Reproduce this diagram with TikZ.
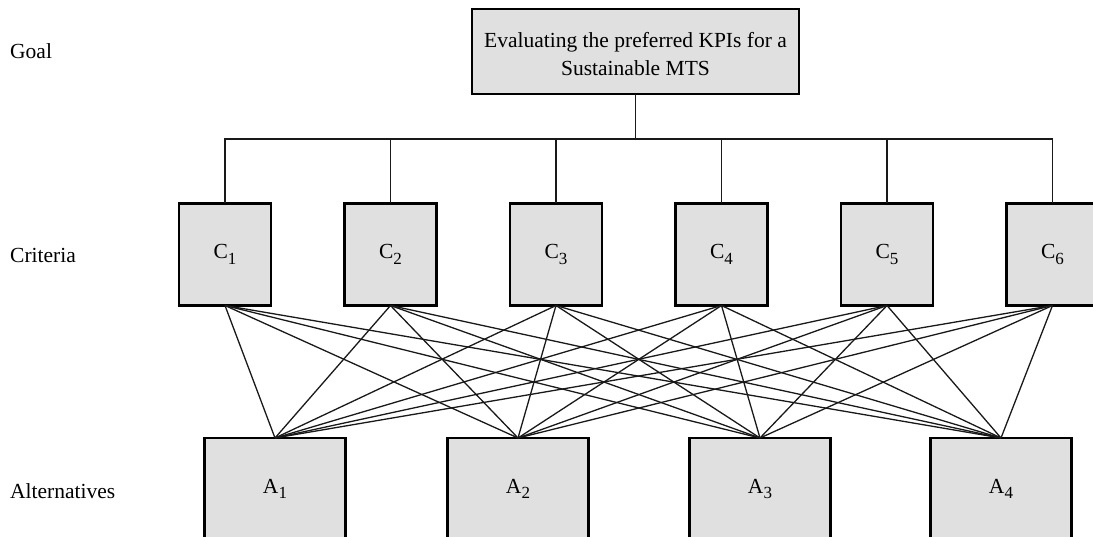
\documentclass[tikz,border=0pt]{standalone}
\usepackage{fontspec}
\setmainfont{Liberation Serif}
\newcommand{\sbx}[1]{\raisebox{-5.5pt}{\fontsize{17}{17}\selectfont #1}}
\begin{document}
\begin{tikzpicture}[x=1pt,y=-1pt,
  box/.style={draw=black,line width=2.6pt,fill=black!12,inner sep=0pt,outer sep=0pt},
  txt/.style={font=\fontsize{21.5}{28}\selectfont},
  lbl/.style={anchor=west,font=\fontsize{21.5}{26}\selectfont,inner sep=0pt},
  conn/.style={line width=1.3pt,black!90}]
\useasboundingbox (0,0) rectangle (1093,537);
\begin{scope}
\clip (0,0) rectangle (1093,537);
% goal
\node[box,minimum width=327pt,minimum height=85pt] (G) at (635.5,51.5) {};
\node[align=center,txt] (GT) at (635.5,54.5)
  {Evaluating the preferred KPIs for a\\Sustainable MTS};
% criteria
\foreach \i in {1,...,6}{
  \node[box,minimum width=92pt,minimum height=102pt,txt]
    (C\i) at ({225+(\i-1)*165.5},254.5) {C\sbx{\i}};
}
% alternatives
\foreach \j/\x in {1/275,2/518,3/760,4/1001}{
  \node[box,minimum width=141pt,minimum height=120pt] (A\j) at (\x,498) {};
  \node[txt] (AL\j) at (\x,489) {A\sbx{\j}};
}
\coordinate (bar) at (G.south |- 0,139);
\foreach \i in {1,...,6}{
  \draw[conn] (G.south) -- (bar) -| (C\i.north);
}
\foreach \i in {1,...,6}{
  \foreach \j in {1,...,4}{
    \draw[conn] (C\i.south) -- (A\j.north);
  }
}
\end{scope}
\node[lbl] (lg) at (10,51) {Goal};
\node[lbl] (lc) at (10,255) {Criteria};
\node[lbl] (la) at (10,491) {Alternatives};
\end{tikzpicture}
\end{document}
